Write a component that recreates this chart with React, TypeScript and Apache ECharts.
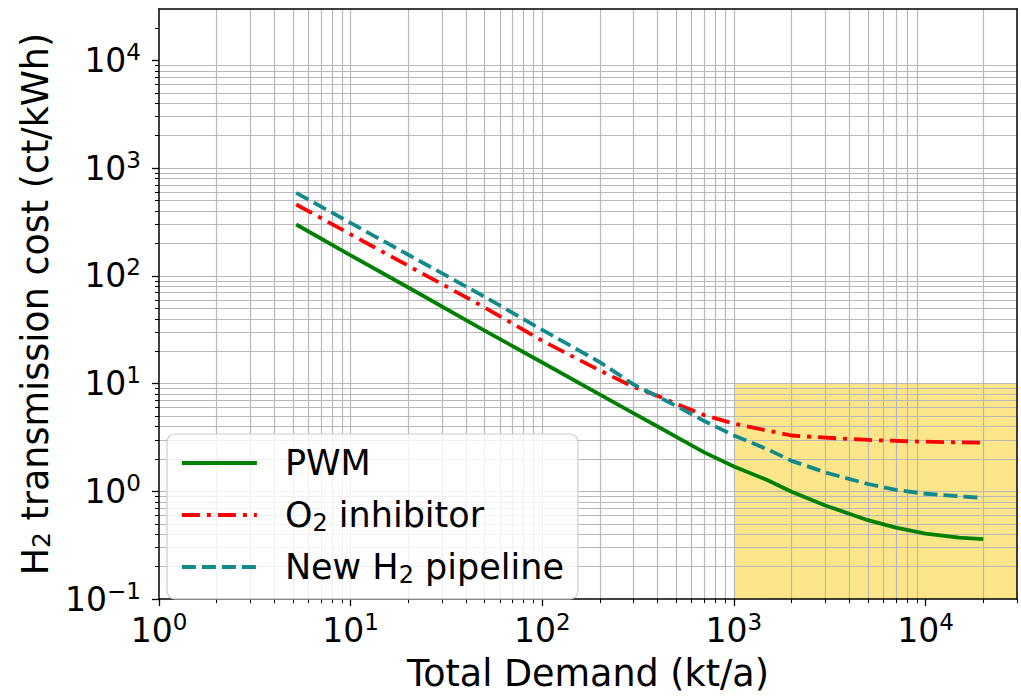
import React, { useEffect, useRef } from "react";
import * as echarts from "echarts";

// ---- data ----
const demand = [5.2, 10, 20, 50, 100, 200, 300, 400, 500, 700, 1000, 1500, 2000, 3000, 5000, 7000, 10000, 15000, 20000];
const pwm = [300, 155, 78, 31, 15.7, 7.9, 5.3, 4.0, 3.2, 2.3, 1.7, 1.27, 0.99, 0.74, 0.54, 0.46, 0.405, 0.372, 0.36];
const o2Inhibitor = [460, 243, 124, 51, 25, 13.2, 9.3, 7.7, 6.5, 5.1, 4.25, 3.66, 3.3, 3.15, 3.0, 2.94, 2.89, 2.85, 2.83];
const newPipeline = [590, 310, 157, 64, 31.5, 15.8, 9.8, 7.6, 6.2, 4.5, 3.3, 2.45, 1.92, 1.5, 1.17, 1.03, 0.95, 0.90, 0.87];

const seriesNames = ["PWM", "O2 inhibitor", "New H2 pipeline"];
const legendLabels = ["PWM", "O{sub|2} inhibitor", "New H{sub|2} pipeline"];

// axis ticks
const xMajorTicks = [1, 10, 100, 1000, 10000];
const yMajorTicks = [0.1, 1, 10, 100, 1000, 10000];
const minorMultipliers = [2, 3, 4, 5, 6, 7, 8, 9];
const xDecades = [1, 10, 100, 1000, 10000];
const yDecades = [0.1, 1, 10, 100, 1000, 10000];
const xMin = 1, xMax = 30000, yMin = 0.1, yMax = 30000;
// highlighted region
const regionX = [1000, 30000];
const regionY = [0.1, 10];

const minorOf = (decades: number[], max: number) => {
  const out: number[] = [];
  decades.forEach((d) => minorMultipliers.forEach((m) => {
    const v = +(d * m).toPrecision(6);
    if (v <= max) out.push(v);
  }));
  return out;
};
const xMinorTicks = minorOf(xDecades, xMax);
const yMinorTicks = minorOf(yDecades, yMax).filter((v) => v < yMax);

const FONT = "DejaVu Sans";
const GRID_COLOR = "#b8b8b8";

const powLabel = (v: number) => {
  const e = Math.round(Math.log10(v));
  if (Math.abs(Math.log10(v) - e) > 1e-6) return "";
  return "10{sup|" + (e < 0 ? "\u2212" + -e : String(e)) + "}";
};

const tickRich = {
  sup: { fontSize: 23, fontFamily: FONT, color: "#000", verticalAlign: "top", lineHeight: 22 },
};

export default function App() {
  const ref = useRef<HTMLDivElement>(null);
  useEffect(() => {
    if (!ref.current) return;
    const chart = echarts.init(ref.current, undefined, { renderer: "svg" });
    const lineSeries = [
      { name: seriesNames[0], values: pwm, color: "#008000", type: "solid" as any },
      { name: seriesNames[1], values: o2Inhibitor, color: "#ff0000", type: [18, 7, 4, 7] as any },
      { name: seriesNames[2], values: newPipeline, color: "#12898b", type: [14, 6] as any },
    ];
    const majorAxisCommon = {
      type: "log",
      logBase: 10,
      axisLine: { show: true, lineStyle: { color: "#000", width: 1.5 } },
      axisTick: { show: true, length: 7, lineStyle: { color: "#000", width: 1.3 } },
      splitLine: { show: true, showMinLine: false, showMaxLine: false, lineStyle: { color: GRID_COLOR, width: 1.2 } },
      minorTick: { show: false },
      z: 4,
    };
    const minorAxisCommon = {
      type: "log",
      logBase: 10,
      axisLine: { show: false },
      axisLabel: { show: false },
      axisTick: { show: true, length: 4, lineStyle: { color: "#000", width: 1 } },
      splitLine: { show: true, showMinLine: true, showMaxLine: false, lineStyle: { color: GRID_COLOR, width: 1.2 } },
      z: 3,
    };
    const borderAxis = {
      type: "log",
      logBase: 10,
      axisLine: { show: true, lineStyle: { color: "#000", width: 1.5 } },
      axisTick: { show: false },
      axisLabel: { show: false },
      splitLine: { show: false },
      z: 5,
    };
    chart.setOption({
      animation: false,
      backgroundColor: "#fff",
      textStyle: { fontFamily: FONT },
      grid: { left: 159, right: 4, top: 9, bottom: 90, containLabel: false },
      xAxis: [
        {
          ...majorAxisCommon,
          position: "bottom",
          min: xMin,
          max: xMax,
          name: "Total Demand (kt/a)",
          nameLocation: "middle",
          nameGap: 49,
          nameTextStyle: { fontSize: 36.5, fontFamily: FONT, color: "#000" },
          axisTick: { ...majorAxisCommon.axisTick, customValues: xMajorTicks },
          axisLabel: {
            customValues: xMajorTicks,
            formatter: powLabel,
            fontSize: 33,
            fontFamily: FONT,
            color: "#000",
            margin: 11,
            lineHeight: 40,
            rich: tickRich,
          },
        },
        {
          ...minorAxisCommon,
          position: "bottom",
          min: xMin,
          max: xMax,
          axisTick: { ...minorAxisCommon.axisTick, customValues: xMinorTicks },
        },
        { ...borderAxis, position: "top", min: xMin, max: xMax },
      ],
      yAxis: [
        {
          ...majorAxisCommon,
          position: "left",
          min: yMin,
          max: yMax,
          name: "H{sub|2} transmission cost (ct/kWh)",
          nameLocation: "middle",
          nameGap: 104,
          nameTextStyle: {
            fontSize: 36.5,
            fontFamily: FONT,
            color: "#000",
            rich: { sub: { fontSize: 25, fontFamily: FONT, color: "#000", verticalAlign: "bottom", lineHeight: 24 } },
          },
          axisTick: { ...majorAxisCommon.axisTick, customValues: yMajorTicks },
          axisLabel: {
            customValues: yMajorTicks,
            formatter: powLabel,
            fontSize: 33,
            fontFamily: FONT,
            color: "#000",
            margin: 18,
            lineHeight: 40,
            rich: tickRich,
          },
        },
        {
          ...minorAxisCommon,
          position: "left",
          min: yMin,
          max: yMax,
          axisTick: { ...minorAxisCommon.axisTick, customValues: yMinorTicks },
        },
        { ...borderAxis, position: "right", min: yMin, max: yMax },
      ],
      legend: {
        data: seriesNames,
        orient: "vertical",
        left: 167,
        top: 434,
        itemWidth: 75,
        itemHeight: 14,
        itemGap: 12,
        padding: [9, 14, 12, 13],
        backgroundColor: "rgba(255,255,255,0.8)",
        borderColor: "#cccccc",
        borderWidth: 1.2,
        borderRadius: 8,
        z: 10,
        itemStyle: { opacity: 0, color: "rgba(0,0,0,0)", borderWidth: 0 },
        lineStyle: { width: 3.8 },
        formatter: (name: string) => legendLabels[seriesNames.indexOf(name)],
        textStyle: {
          fontSize: 35,
          fontFamily: FONT,
          color: "#000",
          lineHeight: 40,
          padding: [0, 0, 0, 23],
          rich: {
            sub: { fontSize: 24, fontFamily: FONT, color: "#000", verticalAlign: "bottom", lineHeight: 24 },
          },
        },
      },
      series: [
        {
          name: "region",
          type: "line",
          data: [],
          z: 0,
          silent: true,
          markArea: {
            silent: true,
            z: 0,
            itemStyle: { color: "#fde68a" },
            data: [[{ xAxis: regionX[0], yAxis: regionY[0] }, { xAxis: regionX[1], yAxis: regionY[1] }]],
          },
        },
        ...lineSeries.map((s) => ({
          name: s.name,
          type: "line",
          xAxisIndex: 0,
          yAxisIndex: 0,
          data: demand.map((d, i) => [d, s.values[i]]),
          symbol: "none",
          showSymbol: false,
          smooth: false,
          z: 6,
          color: s.color,
          lineStyle: { color: s.color, width: 3.8, type: s.type, cap: "butt", join: "round" },
        })),
      ],
    });
    return () => chart.dispose();
  }, []);
  return <div ref={ref} style={{ position: "fixed", left: 0, top: 0, width: 1021, height: 697 }} />;
}
